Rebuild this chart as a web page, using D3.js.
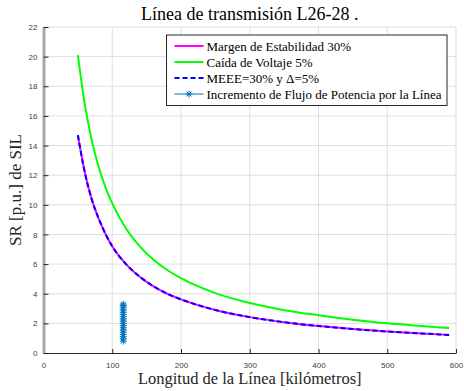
<!DOCTYPE html>
<html lang='es'>
<head>
  <meta charset='UTF-8'>
  <title>Línea de transmisión</title>
  <script src='https://d3js.org/d3.v7.min.js'></script>
  <style>
    html, body { margin: 0; padding: 0; background: #fff; }
    #main { width: 464px; height: 391px; }
  </style>
</head>
<body>
<div id='main'></div>
<script>
  // datos
  const longitudes = [50, 60, 70, 80, 90, 100, 120, 140, 160, 180, 200, 250, 300, 350, 400, 450, 500, 550, 590]
  const margenEstabilidad = [14.7, 12.2, 10.4, 9.1, 8.05, 7.2, 6.0, 5.15, 4.5, 4.0, 3.62, 2.9, 2.42, 2.08, 1.82, 1.62, 1.45, 1.32, 1.22]
  const caidaVoltaje = [20.1, 16.8, 14.4, 12.6, 11.2, 10.1, 8.4, 7.2, 6.3, 5.6, 5.05, 4.04, 3.37, 2.89, 2.55, 2.25, 2.0, 1.82, 1.68]
  const meee = [14.7, 12.2, 10.4, 9.1, 8.05, 7.2, 6.0, 5.15, 4.5, 4.0, 3.62, 2.9, 2.42, 2.08, 1.82, 1.62, 1.45, 1.32, 1.22]
  const flujoX = [116, 116, 116, 116, 116, 116, 116, 116, 116, 116, 116, 116, 116, 116, 116, 116, 116, 116]
  const flujoY = [0.8, 0.95, 1.1, 1.25, 1.4, 1.55, 1.7, 1.85, 2.0, 2.15, 2.3, 2.45, 2.6, 2.75, 2.9, 3.05, 3.2, 3.3]
  const xTicks = [0, 100, 200, 300, 400, 500, 600]
  const yTicks = [0, 2, 4, 6, 8, 10, 12, 14, 16, 18, 20, 22]
  const leyenda = ['Margen de Estabilidad 30%', 'Caída de Voltaje 5%', 'MEEE=30% y \u0394=5%', 'Incremento de Flujo de Potencia por la Línea']

  const width = 464
  const height = 391
  const margin = {left: 43.5, right: 8, top: 27, bottom: 38}
  const serif = "'Liberation Serif', 'Times New Roman', serif"
  const sans = "'Liberation Sans', Arial, sans-serif"
  const axisColor = '#262626'

  const svg = d3.select('#main').append('svg')
    .attr('width', width)
    .attr('height', height)

  const x = d3.scaleLinear().domain([0, 600]).range([margin.left, width - margin.right])
  const y = d3.scaleLinear().domain([0, 22]).range([height - margin.bottom, margin.top])

  // rejilla
  const grid = svg.append('g')
  grid.selectAll('.gx').data(xTicks.slice(1)).enter().append('line')
    .attr('x1', d => x(d)).attr('x2', d => x(d))
    .attr('y1', y(0)).attr('y2', y(22))
    .attr('stroke', '#dfdfdf').attr('stroke-width', 1)
  grid.selectAll('.gy').data(yTicks.slice(1)).enter().append('line')
    .attr('x1', x(0)).attr('x2', x(600))
    .attr('y1', d => y(d)).attr('y2', d => y(d))
    .attr('stroke', '#dfdfdf').attr('stroke-width', 1)

  // ejes
  const xAxis = svg.append('g')
    .attr('transform', `translate(0, ${y(0)})`)
    .call(d3.axisBottom(x).tickValues(xTicks).tickSizeInner(-4).tickSizeOuter(0).tickPadding(9))
  xAxis.select('.domain').attr('stroke', axisColor)
  xAxis.selectAll('.tick line').attr('stroke', axisColor)
  xAxis.selectAll('text').style('font-family', sans).style('font-size', '8px').attr('fill', '#404040')

  const yAxis = svg.append('g')
    .attr('transform', `translate(${x(0)}, 0)`)
    .call(d3.axisLeft(y).tickValues(yTicks).tickSizeInner(-5).tickSizeOuter(0).tickPadding(6))
  yAxis.select('.domain').attr('stroke', '#a8a8a8').attr('stroke-width', 3)
  yAxis.selectAll('.tick line').attr('stroke', axisColor)
  yAxis.selectAll('text').style('font-family', sans).style('font-size', '8px').attr('fill', '#404040')

  // curvas
  const linea = vals => d3.line()
    .x((d, i) => x(longitudes[i]))
    .y(d => y(d))
    .curve(d3.curveMonotoneX)(vals)

  svg.append('path').attr('d', linea(caidaVoltaje))
    .attr('fill', 'none').attr('stroke', '#00ff00').attr('stroke-width', 2)
  svg.append('path').attr('d', linea(margenEstabilidad))
    .attr('fill', 'none').attr('stroke', '#ff00ff').attr('stroke-width', 2)
  svg.append('path').attr('d', linea(meee))
    .attr('fill', 'none').attr('stroke', '#0000ff').attr('stroke-width', 2)
    .attr('stroke-dasharray', '5,3')

  // asterisco estilo matlab
  function asterisco (g, cx, cy, r) {
    const d = `M${cx - r},${cy}L${cx + r},${cy}M${cx},${cy - r}L${cx},${cy + r}` +
      `M${cx - r * 0.7},${cy - r * 0.7}L${cx + r * 0.7},${cy + r * 0.7}` +
      `M${cx - r * 0.7},${cy + r * 0.7}L${cx + r * 0.7},${cy - r * 0.7}`
    g.append('path').attr('d', d).attr('stroke', '#0072bd').attr('stroke-width', 1).attr('fill', 'none')
  }
  const estrellas = svg.append('g')
  flujoY.forEach((v, i) => asterisco(estrellas, x(flujoX[i]), y(v), 3.5))

  // titulo y etiquetas
  svg.append('text').attr('x', (x(0) + x(600)) / 2).attr('y', 20)
    .attr('text-anchor', 'middle').style('font-family', serif).style('font-size', '18px')
    .attr('fill', '#000').text('Línea de transmisión L26-28 .')
  svg.append('text').attr('x', (x(0) + x(600)) / 2).attr('y', 384)
    .attr('text-anchor', 'middle').style('font-family', serif).style('font-size', '16.5px')
    .attr('fill', '#262626').text('Longitud de la Línea [kilómetros]')
  svg.append('text')
    .attr('transform', `translate(21, ${(y(0) + y(22)) / 2}) rotate(-90)`)
    .attr('text-anchor', 'middle').style('font-family', serif).style('font-size', '17px')
    .attr('fill', '#262626').text('SR [p.u.] de SIL')

  // leyenda
  const lg = svg.append('g').attr('transform', 'translate(166.5, 35)')
  lg.append('rect').attr('width', 280.5).attr('height', 70.5)
    .attr('fill', '#fff').attr('stroke', axisColor).attr('stroke-width', 1)
  const estilos = [
    {c: '#ff00ff', w: 2, dash: null},
    {c: '#00ff00', w: 2, dash: null},
    {c: '#0000ff', w: 2, dash: '5,3'},
    {c: '#0072bd', w: 1, dash: null}
  ]
  leyenda.forEach((t, i) => {
    const yy = 11 + i * 16
    lg.append('line').attr('x1', 8).attr('x2', 37).attr('y1', yy).attr('y2', yy)
      .attr('stroke', estilos[i].c).attr('stroke-width', estilos[i].w)
      .attr('stroke-dasharray', estilos[i].dash)
    if (i === 3) asterisco(lg, 22.5, yy, 3.5)
    lg.append('text').attr('x', 40).attr('y', yy + 4.5)
      .style('font-family', serif).style('font-size', '13px').attr('fill', '#000').text(t)
  })
</script>
</body>
</html>
